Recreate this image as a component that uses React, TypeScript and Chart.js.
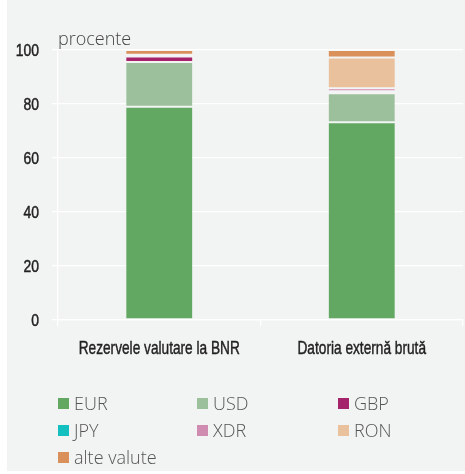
import React, { useEffect, useRef } from "react";
import { Chart, registerables } from "chart.js";

Chart.register(...registerables);

const categories = ["Rezervele valutare la BNR", "Datoria externă brută"];
const seriesNames = ["EUR", "USD", "GBP", "JPY", "XDR", "RON", "alte valute"];
const eurValues = [79.0, 73.2];
const usdValues = [16.6, 10.8];
const gbpValues = [2.0, 0.1];
const jpyValues = [0.5, 0.6];
const xdrValues = [0.1, 1.1];
const ronValues = [0.0, 11.4];
const otherValues = [1.8, 2.8];
const seriesColors = ["#62a762", "#9cc09c", "#a5236a", "#14bfc0", "#d08bb0", "#e9c19d", "#d9905b"];
const yTickValues = [0, 20, 40, 60, 80, 100];
const unitLabel = "procente";

const W = 458;
const H = 471;
const narrowFamily = "'Liberation Sans', Arial, sans-serif";
const light = "'Open Sans', 'Noto Sans', sans-serif";

function condensedText(ctx: any, text: string, x: number, y: number, align: string, sx: number) {
  ctx.save();
  ctx.translate(x, y);
  ctx.scale(sx, 1);
  ctx.textAlign = align;
  ctx.textBaseline = "alphabetic";
  ctx.fillText(text, 0, 0);
  ctx.lineWidth = 0.45;
  ctx.strokeStyle = ctx.fillStyle;
  ctx.strokeText(text, 0, 0);
  ctx.restore();
}

const extrasPlugin = {
  id: "extras",
  afterDraw(chart: any) {
    const ctx = chart.ctx;
    const area = chart.chartArea;
    const xs = chart.scales.x;
    const ys = chart.scales.y;
    ctx.save();
    ctx.fillStyle = "#444";
    ctx.font = `300 18px ${light}`;
    ctx.textAlign = "left";
    ctx.textBaseline = "alphabetic";
    ctx.fillText(unitLabel, area.left, 45);

    ctx.fillStyle = "#222";
    ctx.font = `16px ${narrowFamily}`;
    ys.ticks.forEach((t: any) => {
      const py = ys.getPixelForValue(t.value);
      condensedText(ctx, String(t.value), ys.right - 19, py + 6.3, "right", 0.87);
    });

    ctx.font = `19px ${narrowFamily}`;
    categories.forEach((c, i) => {
      const px = xs.getPixelForValue(i);
      condensedText(ctx, c, px, 354, "center", 0.72);
    });

    const colX = [51, 190, 331];
    const rowBase = [410, 437, 464];
    const box = 11;
    chart.data.datasets.forEach((ds: any, i: number) => {
      const col = i % 3;
      const row = Math.floor(i / 3);
      const x = colX[col];
      const base = rowBase[row];
      ctx.fillStyle = ds.backgroundColor;
      ctx.fillRect(x, base - 12, box, box);
      ctx.fillStyle = "#555";
      ctx.font = `300 18px ${light}`;
      ctx.textAlign = "left";
      ctx.fillText(ds.label, x + 16, base);
    });
    ctx.restore();
  },
};

export default function App() {
  const ref = useRef<HTMLCanvasElement | null>(null);
  useEffect(() => {
    if (!ref.current) return;
    const values = [eurValues, usdValues, gbpValues, jpyValues, xdrValues, ronValues, otherValues];
    const chart = new Chart(ref.current, {
      type: "bar",
      data: {
        labels: categories,
        datasets: seriesNames.map((name, i) => ({
          label: name,
          data: values[i],
          backgroundColor: seriesColors[i],
          borderColor: "rgba(255,255,255,0.15)",
          borderWidth: 1,
          borderSkipped: false,
          barPercentage: 0.335,
          categoryPercentage: 1,
        })),
      },
      options: {
        responsive: false,
        animation: false,
        layout: { padding: { top: 50, right: 2, left: 0, bottom: 0 } },
        plugins: { legend: { display: false }, tooltip: { enabled: false } },
        scales: {
          x: {
            stacked: true,
            offset: true,
            grid: {
              display: true,
              offset: true,
              drawOnChartArea: false,
              color: "#ffffff",
              lineWidth: 1.3,
              tickLength: 6,
            },
            border: { display: true, color: "#ffffff", width: 1.3 },
            ticks: { display: false, autoSkip: false },
            afterFit: (s: any) => {
              s.height = H - 320;
            },
          },
          y: {
            stacked: true,
            min: 0,
            max: 100,
            afterBuildTicks: (s: any) => {
              s.ticks = yTickValues.map((v) => ({ value: v }));
            },
            grid: { color: "#ffffff", lineWidth: 1.3, tickLength: 6 },
            border: { display: true, color: "#ffffff", width: 1.3 },
            ticks: { display: false },
            afterFit: (s: any) => {
              s.width = 51;
            },
          },
        },
      },
      plugins: [extrasPlugin],
    });
    return () => chart.destroy();
  }, []);
  return (
    <div style={{ position: "absolute", left: 7, top: 0, width: W, height: H, background: "#f2f3f3" }}>
      <canvas ref={ref} width={W} height={H} style={{ width: W, height: H, display: "block" }} />
    </div>
  );
}
